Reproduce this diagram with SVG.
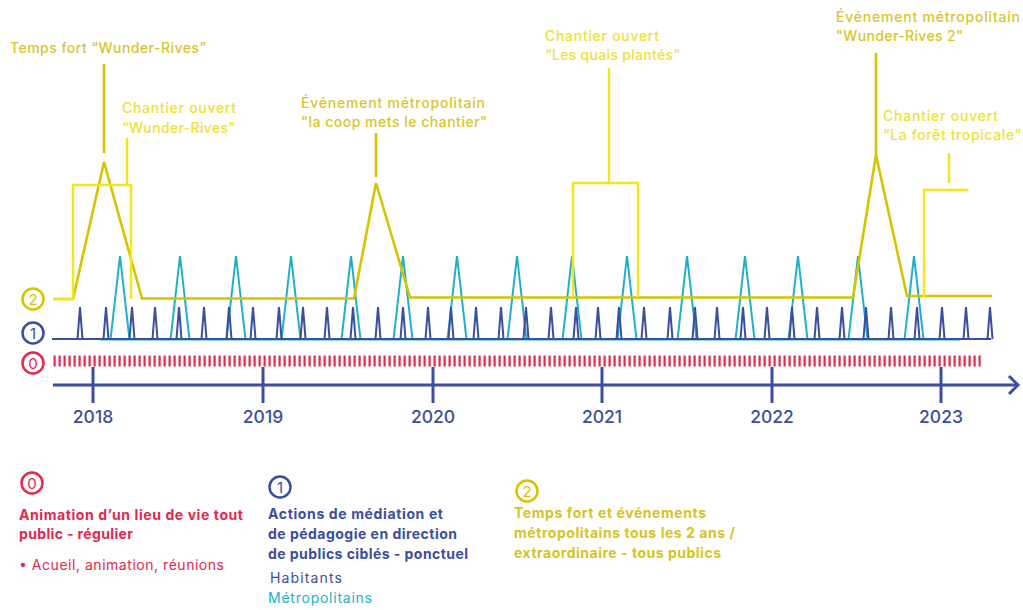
<svg xmlns="http://www.w3.org/2000/svg" xmlns:xlink="http://www.w3.org/1999/xlink" width="1023" height="610" viewBox="0 0 1023 610">
<style>
  text { font-family: Inter, "Liberation Sans", sans-serif; }
  .lbl { font-size: 14px; font-weight: 500; }
  .dy { fill: #d8c62a; }
  .by { fill: #efe234; }
  .yr { font-size: 17.5px; font-weight: 500; fill: #3b4ea0; text-anchor: middle; }
  .num { font-size: 15px; font-weight: 400; text-anchor: middle; }
  .leg { font-size: 14px; font-weight: 700; }
  .legr { font-size: 14px; font-weight: 400; }
  .ring { fill: none; stroke-width: 2.5; }
  .dline { fill: none; stroke: #d6c400; stroke-width: 2.6; stroke-linejoin: miter; }
  .bline { fill: none; stroke: #f2e61c; stroke-width: 2.4; }
  .blue { fill: none; stroke: #3b4ea0; stroke-width: 2; }
  .cyan { fill: none; stroke: #1eb0c9; stroke-width: 2; }
  .axis { fill: none; stroke: #3b4ea0; stroke-width: 3; }
</style>
<defs>
  <path id="spike" d="M-2.5,339 L0,307 L2.5,339"/>
  <path id="tri" d="M-9.5,339.5 L0,256 L9.5,339.5"/>
</defs>

<g id="connectors">
  <!-- level 0: red dashes -->
  <line x1="53.5" y1="361" x2="983" y2="361" stroke="#e8284f" stroke-width="11" stroke-dasharray="2.2 2.8"/>

  <!-- level 1: cyan (métropolitains) -->
  <g class="cyan">
    <line x1="100" y1="339.5" x2="960" y2="339.5"/>
    <use xlink:href="#tri" x="120"/><use xlink:href="#tri" x="180"/><use xlink:href="#tri" x="236"/>
    <use xlink:href="#tri" x="291"/><use xlink:href="#tri" x="351"/><use xlink:href="#tri" x="403"/>
    <use xlink:href="#tri" x="457"/><use xlink:href="#tri" x="517"/><use xlink:href="#tri" x="572"/>
    <use xlink:href="#tri" x="627"/><use xlink:href="#tri" x="687"/><use xlink:href="#tri" x="745"/>
    <use xlink:href="#tri" x="798"/><use xlink:href="#tri" x="858"/><use xlink:href="#tri" x="914"/>
  </g>

  <!-- level 1: dark blue (habitants) -->
  <g class="blue">
    <line x1="52" y1="339" x2="991" y2="339"/>
    <use xlink:href="#spike" x="80"/><use xlink:href="#spike" x="106"/><use xlink:href="#spike" x="132"/>
    <use xlink:href="#spike" x="155"/><use xlink:href="#spike" x="179"/><use xlink:href="#spike" x="204"/>
    <use xlink:href="#spike" x="229"/><use xlink:href="#spike" x="253"/><use xlink:href="#spike" x="279"/>
    <use xlink:href="#spike" x="303"/><use xlink:href="#spike" x="327"/><use xlink:href="#spike" x="353"/>
    <use xlink:href="#spike" x="378"/><use xlink:href="#spike" x="403"/><use xlink:href="#spike" x="428"/>
    <use xlink:href="#spike" x="451"/><use xlink:href="#spike" x="476"/><use xlink:href="#spike" x="501"/>
    <use xlink:href="#spike" x="526"/><use xlink:href="#spike" x="551"/><use xlink:href="#spike" x="576"/>
    <use xlink:href="#spike" x="598"/><use xlink:href="#spike" x="619"/><use xlink:href="#spike" x="644"/>
    <use xlink:href="#spike" x="670"/><use xlink:href="#spike" x="695"/><use xlink:href="#spike" x="717"/>
    <use xlink:href="#spike" x="743"/><use xlink:href="#spike" x="767"/><use xlink:href="#spike" x="792"/>
    <use xlink:href="#spike" x="817"/><use xlink:href="#spike" x="842"/><use xlink:href="#spike" x="866"/>
    <use xlink:href="#spike" x="891"/><use xlink:href="#spike" x="917"/><use xlink:href="#spike" x="942"/>
    <use xlink:href="#spike" x="966"/><use xlink:href="#spike" x="990"/>
  </g>

  <!-- level 2: dark yellow (temps fort / événements) -->
  <path class="dline" d="M53,299 H73 L104,162 L142,298.5 H354 L376,183 L410,297.5 H853 L876,155 L907,296 H992"/>
  <line class="dline" x1="104" y1="64" x2="104" y2="153"/>
  <line class="dline" x1="376" y1="133" x2="376" y2="177"/>
  <line class="dline" x1="876" y1="53" x2="876" y2="155"/>

  <!-- level 2: bright yellow (chantiers ouverts) -->
  <path class="bline" d="M53,299 H73 V185 H131 V299"/>
  <path class="bline" d="M573,297.5 V183 H638 V297"/>
  <path class="bline" d="M924,297 V190 H968"/>
  <line class="bline" x1="127" y1="138" x2="127" y2="185"/>
  <line class="bline" x1="609" y1="68" x2="609" y2="183"/>
  <line class="bline" x1="949" y1="153" x2="949" y2="183"/>

  <!-- time axis -->
  <line class="axis" x1="53" y1="385" x2="1017" y2="385"/>
  <path class="axis" d="M1009,376 L1018,385 L1009,394" stroke-linejoin="miter"/>
  <line class="axis" x1="93" y1="367" x2="93" y2="403"/>
  <line class="axis" x1="263" y1="367" x2="263" y2="403"/>
  <line class="axis" x1="433" y1="367" x2="433" y2="403"/>
  <line class="axis" x1="602" y1="367" x2="602" y2="403"/>
  <line class="axis" x1="772" y1="367" x2="772" y2="403"/>
  <line class="axis" x1="941" y1="367" x2="941" y2="403"/>
</g>

<g id="years">
  <text class="yr" x="93" y="423">2018</text>
  <text class="yr" x="263" y="423">2019</text>
  <text class="yr" x="433" y="423">2020</text>
  <text class="yr" x="602" y="423">2021</text>
  <text class="yr" x="772" y="423">2022</text>
  <text class="yr" x="941" y="423">2023</text>
</g>

<g id="level-markers">
  <circle class="ring" cx="33" cy="299" r="10.5" stroke="#d6c400"/>
  <text class="num" x="33" y="304.5" fill="#d6c400">2</text>
  <circle class="ring" cx="33" cy="333" r="10.5" stroke="#3b4ea0"/>
  <text class="num" x="33" y="338.5" fill="#3b4ea0">1</text>
  <circle class="ring" cx="33" cy="363" r="10.5" stroke="#e8284f"/>
  <text class="num" x="33" y="368.5" fill="#e8284f">0</text>
</g>

<g id="event-temps-fort">
  <text class="lbl dy" x="10" y="53" textLength="196">Temps fort “Wunder-Rives”</text>
</g>
<g id="event-chantier-wunder">
  <text class="lbl by" x="122" y="113" textLength="114">Chantier ouvert</text>
  <text class="lbl by" x="122" y="133" textLength="113">“Wunder-Rives”</text>
</g>
<g id="event-coop">
  <text class="lbl dy" x="301" y="108" textLength="184">Événement métropolitain</text>
  <text class="lbl dy" x="301" y="127" textLength="186">"la coop mets le chantier"</text>
</g>
<g id="event-quais">
  <text class="lbl by" x="545" y="41" textLength="114">Chantier ouvert</text>
  <text class="lbl by" x="545" y="60" textLength="135">“Les quais plantés”</text>
</g>
<g id="event-wunder2">
  <text class="lbl dy" x="836" y="22" textLength="184">Événement métropolitain</text>
  <text class="lbl dy" x="836" y="41" textLength="127">"Wunder-Rives 2"</text>
</g>
<g id="event-foret">
  <text class="lbl by" x="883" y="121" textLength="115">Chantier ouvert</text>
  <text class="lbl by" x="883" y="140" textLength="138">“La forêt tropicale”</text>
</g>

<g id="legend-0">
  <circle class="ring" cx="32" cy="483" r="10.5" stroke="#e8284f"/>
  <text class="num" x="32" y="488.5" fill="#e8284f">0</text>
  <text class="leg" x="19" y="520" fill="#e6264f" textLength="224">Animation d’un lieu de vie tout</text>
  <text class="leg" x="19" y="539" fill="#e6264f" textLength="114">public - régulier</text>
  <text class="legr" x="19" y="570" fill="#e6264f" textLength="205">• Acueil, animation, réunions</text>
</g>
<g id="legend-1">
  <circle class="ring" cx="280" cy="487" r="10.5" stroke="#3b4ea0"/>
  <text class="num" x="280" y="492.5" fill="#3b4ea0">1</text>
  <text class="leg" x="268" y="519" fill="#3b4ea0" textLength="175">Actions de médiation et</text>
  <text class="leg" x="268" y="539" fill="#3b4ea0" textLength="189">de pédagogie en direction</text>
  <text class="leg" x="268" y="559" fill="#3b4ea0" textLength="200">de publics ciblés - ponctuel</text>
  <text class="legr" x="270" y="583" fill="#3b4ea0" textLength="72">Habitants</text>
  <text class="legr" x="268" y="603" fill="#1eb0c9" textLength="104">Métropolitains</text>
</g>
<g id="legend-2">
  <circle class="ring" cx="527" cy="491" r="10.5" stroke="#d6c400"/>
  <text class="num" x="527" y="496.5" fill="#d6c400">2</text>
  <text class="leg" x="514" y="518" fill="#d6c41e" textLength="192">Temps fort et événements</text>
  <text class="leg" x="514" y="538" fill="#d6c41e" textLength="221">métropolitains tous les 2 ans /</text>
  <text class="leg" x="514" y="558" fill="#d6c41e" textLength="207">extraordinaire - tous publics</text>
</g>
</svg>
